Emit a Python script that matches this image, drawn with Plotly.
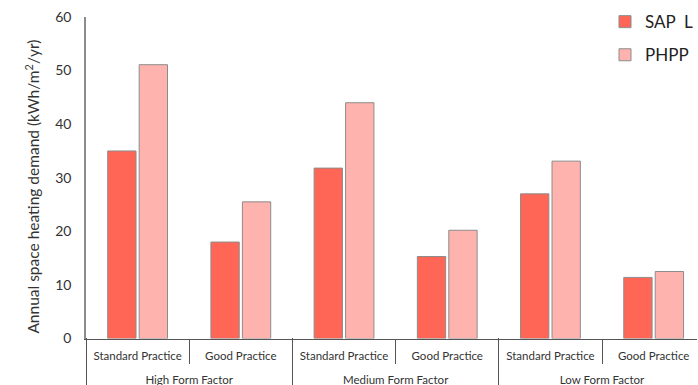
import plotly.graph_objects as go

form_factors = ["High Form Factor", "Medium Form Factor", "Low Form Factor"]
practices = ["Standard Practice", "Good Practice",
             "Standard Practice", "Good Practice",
             "Standard Practice", "Good Practice"]
sap_values = [35.0, 18.0, 31.8, 15.3, 27.0, 11.4]
phpp_values = [51.1, 25.5, 44.0, 20.2, 33.1, 12.5]
series_names = ["SAP\u00a0 L", "PHPP"]
series_colors = ["#FF6656", "#FFB3AE"]
y_ticks = [0, 10, 20, 30, 40, 50, 60]
y_title = "Annual space heating demand (kWh/m<sup>2</sup>/yr)"

FONT = "Lato"
TXT = "#333333"
AX = "#555555"

idx = list(range(len(practices)))
per_group = len(practices) // len(form_factors)
group_centers = [g * per_group + (per_group - 1) / 2 for g in range(len(form_factors))]
group_bounds = [g * per_group - 0.5 for g in range(len(form_factors) + 1)]
inner_bounds = [g * per_group + 0.5 for g in range(len(form_factors))]
x_range = [-0.5, 5.42]

fig = go.Figure()
for name, vals, col in zip(series_names, [sap_values, phpp_values], series_colors):
    fig.add_trace(go.Bar(
        x=idx, y=vals, name=name,
        marker=dict(color=col, line=dict(color="#8C8C8C", width=1)),
        legendgroup=name,
    ))
# empty helper trace so the group-label axis is drawn
fig.add_trace(go.Scatter(x=[], y=[], xaxis="x2", yaxis="y",
                         showlegend=False, hoverinfo="skip"))

fig.update_layout(
    width=698, height=385, autosize=False,
    paper_bgcolor="white", plot_bgcolor="white",
    margin=dict(l=86, r=0, t=17, b=0),
    barmode="group", bargap=0.39, bargroupgap=0.1,
    font=dict(family=FONT, color=TXT),
    showlegend=True,
    legend=dict(x=0.85, y=1.035, xanchor="left", yanchor="top",
                font=dict(size=17, color="#222222"),
                tracegroupgap=8, itemwidth=30, bgcolor="rgba(0,0,0,0)"),
    yaxis=dict(
        domain=[(385 - 338.5) / 368, 1],
        range=[0, 60], tickvals=y_ticks, showgrid=False, zeroline=False,
        showline=True, linecolor="#8C8C8C", linewidth=1.5,
        tickfont=dict(size=14, color=TXT, family=FONT),
        ticklabelstandoff=10, automargin=False,
    ),
    xaxis=dict(
        anchor="y", range=x_range, tickvals=idx, ticktext=practices,
        showline=True, linecolor=AX, linewidth=1, ticks="",
        minor=dict(tickvals=inner_bounds, ticks="outside", ticklen=24,
                   tickcolor=AX, tickwidth=1, showgrid=False),
        tickfont=dict(size=11.5, color=TXT, family=FONT),
        ticklabelstandoff=7, showgrid=False, zeroline=False, automargin=False,
    ),
    xaxis2=dict(
        overlaying="x", anchor="free", position=0, side="bottom",
        range=x_range, tickvals=group_centers, ticktext=form_factors,
        showline=False, ticks="", ticklabelposition="inside",
        ticklabelstandoff=-4,
        minor=dict(tickvals=group_bounds, ticks="inside", ticklen=47,
                   tickcolor=AX, tickwidth=1, showgrid=False),
        tickfont=dict(size=11.5, color=TXT, family=FONT),
        showgrid=False, zeroline=False, automargin=False,
    ),
    annotations=[dict(
        text=y_title, textangle=-90, showarrow=False,
        xref="paper", yref="paper", x=(32 - 86) / 612, y=(385 - 186.5) / 368,
        xanchor="center", yanchor="middle",
        font=dict(size=15.5, color=TXT, family=FONT),
    )],
)
fig.write_html("out.html", config={"displayModeBar": False},
               post_script="document.body.style.margin='0';document.body.style.overflow='hidden';")
